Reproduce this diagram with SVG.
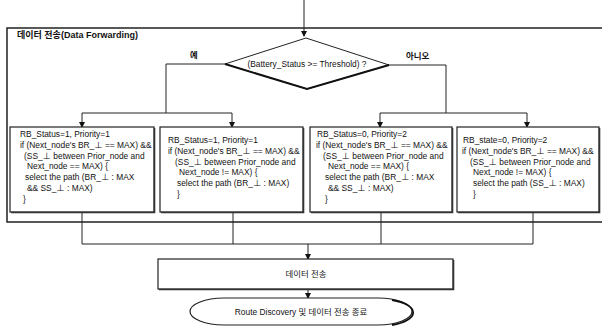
<svg xmlns="http://www.w3.org/2000/svg" width="602" height="327" viewBox="0 0 602 327">
<style>
text{font-family:"Liberation Sans","Noto Sans CJK KR",sans-serif;fill:#111}
.t{font-size:8.4px}
.k{font-size:8.4px}
.box{fill:#fff;stroke:#222;stroke-width:1.2}
.sh{fill:none;stroke:#333;stroke-width:1.6}
.ln{fill:none;stroke:#222;stroke-width:1}
</style>
<defs>
<marker id="ar" markerWidth="6" markerHeight="6" refX="5" refY="3" orient="auto" markerUnits="userSpaceOnUse">
<path d="M0,0 L6,3 L0,6 z" fill="#111"/>
</marker>
</defs>
<rect width="602" height="327" fill="#fff"/>
<g id="frame">
<path d="M605,28 L7,28 L7,222 L605,222" fill="none" stroke="#222" stroke-width="1.5"/>
<text x="17" y="38" style="font-size:9px;font-weight:bold">데이터 전송(Data Forwarding)</text>
</g>
<g id="connectors">
<line class="ln" x1="304" y1="0" x2="304" y2="36" marker-end="url(#ar)"/>
<polyline class="ln" points="225,64 166,64 166,113"/>
<polyline class="ln" points="82,113 232,113"/>
<line class="ln" x1="82" y1="113" x2="82" y2="127" marker-end="url(#ar)"/>
<line class="ln" x1="232" y1="113" x2="232" y2="127" marker-end="url(#ar)"/>
<polyline class="ln" points="389,65 446,65 446,113"/>
<polyline class="ln" points="380,113 527,113"/>
<line class="ln" x1="380" y1="113" x2="380" y2="127" marker-end="url(#ar)"/>
<line class="ln" x1="527" y1="113" x2="527" y2="127" marker-end="url(#ar)"/>
<polyline class="ln" points="82,212 82,244 533,244 533,212"/>
<line class="ln" x1="233" y1="212" x2="233" y2="244"/>
<line class="ln" x1="381" y1="212" x2="381" y2="244"/>
<line class="ln" x1="308" y1="244" x2="308" y2="259" marker-end="url(#ar)"/>
<line class="ln" x1="308" y1="289" x2="308" y2="298" marker-end="url(#ar)"/>
<text x="190" y="58" class="k" style="font-weight:bold">예</text>
<text x="406" y="59" class="k" style="font-weight:bold">아니오</text>
</g>
<g id="decision">
<polygon points="306,38 389,65 307,89 225,64" fill="#fff" stroke="#222" stroke-width="1"/>
<polyline points="225,64 307,89 389,65" fill="none" stroke="#111" stroke-width="2"/>
<text x="307" y="67" class="t" text-anchor="middle">(Battery_Status &gt;= Threshold) ?</text>
</g>
<g id="box1">
<rect class="box" x="10" y="127" width="144" height="85"/>
<polyline class="sh" points="154.5,128 154.5,212.5 11,212.5"/>
<text class="t"><tspan x="20" y="137">RB_Status=1, Priority=1</tspan><tspan x="20" y="147.8">if (Next_node's BR_⊥ == MAX) &amp;&amp;</tspan><tspan x="24" y="158.6">(SS_⊥ between Prior_node and</tspan><tspan x="27" y="169.4">Next_node == MAX) {</tspan><tspan x="25" y="180.2">select the path (BR_⊥ : MAX</tspan><tspan x="27" y="191">&amp;&amp; SS_⊥ : MAX)</tspan><tspan x="23" y="202">}</tspan></text>
</g>
<g id="box2">
<rect class="box" x="160" y="127" width="143" height="85"/>
<polyline class="sh" points="303.5,128 303.5,212.5 161,212.5"/>
<text class="t"><tspan x="168" y="143">RB_Status=1, Priority=1</tspan><tspan x="168" y="153.8">if (Next_node's BR_⊥ == MAX) &amp;&amp;</tspan><tspan x="175" y="164.6">(SS_⊥ between Prior_node and</tspan><tspan x="179" y="175.4">Next_node != MAX) {</tspan><tspan x="177" y="186.2">select the path (BR_⊥ : MAX)</tspan><tspan x="177" y="197">}</tspan></text>
</g>
<g id="box3">
<rect class="box" x="310" y="127" width="142" height="85"/>
<polyline class="sh" points="452.5,128 452.5,212.5 311,212.5"/>
<text class="t"><tspan x="317" y="137">RB_Status=0, Priority=2</tspan><tspan x="316" y="147.8">if (Next_node's BR_⊥ == MAX) &amp;&amp;</tspan><tspan x="323" y="158.6">(SS_⊥ between Prior_node and</tspan><tspan x="328" y="169.4">Next_node == MAX) {</tspan><tspan x="325" y="180.2">select the path (BR_⊥ : MAX</tspan><tspan x="328" y="191">&amp;&amp; SS_⊥ : MAX)</tspan><tspan x="325" y="202">}</tspan></text>
</g>
<g id="box4">
<rect class="box" x="457" y="127" width="142" height="85"/>
<polyline class="sh" points="599.5,128 599.5,212.5 458,212.5"/>
<text class="t"><tspan x="463" y="143">RB_state=0, Priority=2</tspan><tspan x="462" y="153.8">if (Next_node's BR_⊥ == MAX) &amp;&amp;</tspan><tspan x="470" y="164.6">(SS_⊥ between Prior_node and</tspan><tspan x="473" y="175.4">Next_node != MAX) {</tspan><tspan x="473" y="186.2">select the path (SS_⊥ : MAX)</tspan><tspan x="473" y="197">}</tspan></text>
</g>
<g id="send">
<rect class="box" x="158" y="259" width="295" height="30"/>
<polyline class="sh" points="453.5,260 453.5,289.5 159,289.5"/>
<text x="306" y="277" class="k" text-anchor="middle">데이터 전송</text>
</g>
<g id="end">
<rect x="190" y="298" width="222" height="27" rx="34" ry="13.5" fill="#fff" stroke="#222" stroke-width="1.2"/>
<path d="M392,300 A34,13.5 0 0 1 392,325" fill="none" stroke="#111" stroke-width="1.8"/>
<text x="301" y="315" class="k" text-anchor="middle">Route Discovery 및 데이터 전송 종료</text>
</g>
</svg>
